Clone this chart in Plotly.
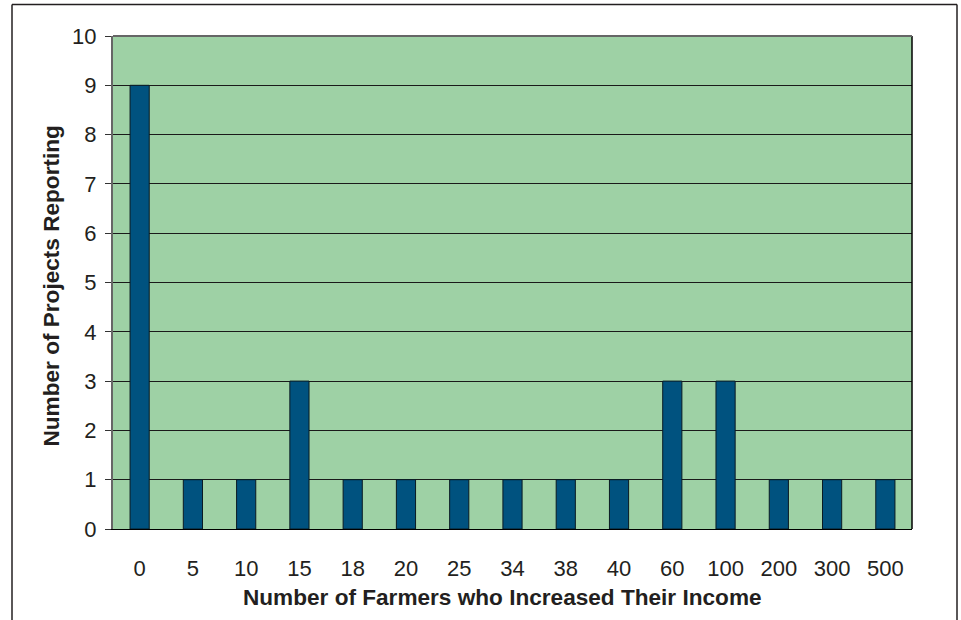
import plotly.graph_objects as go

categories = ["0", "5", "10", "15", "18", "20", "25", "34", "38", "40", "60", "100", "200", "300", "500"]
projects = [9, 1, 1, 3, 1, 1, 1, 1, 1, 1, 3, 3, 1, 1, 1]
y_ticks = list(range(0, 11))
x_title = "Number of Farmers who Increased Their Income"
y_title = "Number of Projects Reporting"

fig = go.Figure()
fig.add_trace(go.Bar(
    x=categories, y=projects,
    marker=dict(color="#00527f", line=dict(color="#0a1a22", width=1)),
    width=0.36,
))

L, R, T, B = 113, 49, 36, 91
W, H = 961, 620
pw, ph = W - L - R, H - T - B

def px_x(x):
    return (x - L) / pw

def px_y(y):
    return (H - B - y) / ph

FONT = "Liberation Sans, Arial, sans-serif"
TXT = "#231f20"

fig.update_layout(
    width=W, height=H,
    margin=dict(l=L, r=R, t=T, b=B),
    paper_bgcolor="white",
    plot_bgcolor="#9ed1a5",
    font=dict(family=FONT, size=22, color=TXT),
    showlegend=False,
    bargap=0.64,
    xaxis=dict(
        type="category",
        showgrid=False,
        ticks="",
        tickfont=dict(family=FONT, size=22, color=TXT),
        ticklabelstandoff=20,
        showline=True, linecolor="#000000", linewidth=1,
    ),
    yaxis=dict(
        range=[0, 10],
        tickvals=y_ticks,
        showgrid=True, gridcolor="#1a1a1a", gridwidth=1,
        ticks="outside", ticklen=6, tickcolor="#333333",
        tickfont=dict(family=FONT, size=22, color=TXT),
        ticklabelstandoff=4,
        showline=True, linecolor="#666666", linewidth=2,
        zeroline=False,
    ),
    annotations=[
        dict(text="<b>" + x_title + "</b>", xref="paper", yref="paper",
             x=px_x(502), y=px_y(597), xanchor="center", yanchor="middle",
             showarrow=False, font=dict(family=FONT, size=22.6, color=TXT)),
        dict(text="<b>" + y_title + "</b>", xref="paper", yref="paper",
             x=px_x(51), y=px_y(286.5), xanchor="center", yanchor="middle",
             textangle=-90,
             showarrow=False, font=dict(family=FONT, size=22.6, color=TXT)),
    ],
    shapes=[
        dict(type="line", xref="paper", yref="paper", x0=1, x1=1, y0=0, y1=1,
             line=dict(color="#000000", width=1.5)),
        dict(type="line", xref="paper", yref="paper", x0=0, x1=1, y0=1, y1=1,
             line=dict(color="#666666", width=2)),
        # outer frame
        dict(type="line", xref="paper", yref="paper", x0=px_x(12), x1=px_x(957), y0=px_y(4.5), y1=px_y(4.5),
             line=dict(color=TXT, width=1.5)),
        dict(type="line", xref="paper", yref="paper", x0=px_x(12), x1=px_x(12), y0=px_y(4.5), y1=px_y(640),
             line=dict(color=TXT, width=1.5)),
        dict(type="line", xref="paper", yref="paper", x0=px_x(957), x1=px_x(957), y0=px_y(4.5), y1=px_y(640),
             line=dict(color=TXT, width=1.5)),
    ],
)

fig.write_html("out.html")
